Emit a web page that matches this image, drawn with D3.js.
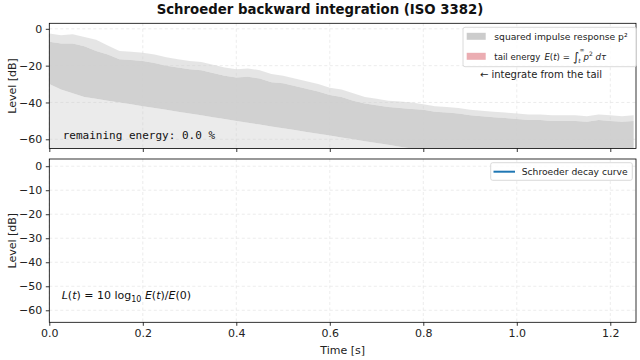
<!DOCTYPE html>
<html><head><meta charset="utf-8">
<script src="https://cdn.jsdelivr.net/npm/d3@7"></script>
<style>
body{margin:0;background:#fff;}
svg{display:block;font-family:"DejaVu Sans",sans-serif;}
</style></head>
<body><svg id="c" width="640" height="360"></svg>
<script>
// ---- data ----
const timeS = [0.000,0.025,0.050,0.075,0.100,0.125,0.150,0.175,0.200,0.225,0.250,0.275,0.300,0.325,0.350,0.375,0.400,0.425,0.450,0.475,0.500,0.525,0.550,0.575,0.600,0.625,0.650,0.675,0.700,0.725,0.750,0.775,0.800,0.825,0.850,0.875,0.900,0.925,0.950,0.975,1.000,1.025,1.050,1.075,1.100,1.125,1.150,1.175,1.200,1.225,1.250];
// spike maxima of squared impulse response (dB)
const peakDb = [-2.5,-3.5,-3,-4.5,-6,-9,-12,-12.5,-13,-14,-15.5,-16.5,-17.5,-18,-19.5,-21,-22,-21.5,-22.5,-24.5,-25.5,-27,-28.5,-30,-32,-33,-35,-37,-38,-39,-39.5,-40,-41,-42,-42.5,-43,-44,-44.5,-45,-45.5,-46,-46.5,-46.5,-47,-47,-47,-47.5,-46.5,-47,-47.5,-47];
// top of the dense body (dB)
const denseTopDb = [-7,-8,-8,-9.5,-12,-14,-16.5,-17,-17.5,-18.5,-20,-21,-22,-22.5,-24,-25.5,-26.5,-26,-27,-29,-29.5,-31,-32.5,-34,-36,-37,-39,-40.5,-41.5,-42.5,-43,-43.5,-44,-45,-45.5,-46,-47,-47.5,-48,-48.5,-49,-49.5,-49.5,-50,-50,-50,-50.5,-49.5,-50,-50.5,-50];
// bottom of the dense body (dB)
const denseBotDb = [-30,-33,-35,-37,-38,-39,-40,-41,-42,-43,-44,-45,-46,-47,-48,-49,-50,-51,-52,-53,-54,-55,-56,-57,-58,-59,-60,-61,-62,-63,-64,-65,-65,-65,-65,-65,-65,-65,-65,-65,-65,-65,-65,-65,-65,-65,-65,-65,-65,-65,-65];
const xTicks = [0.0,0.2,0.4,0.6,0.8,1.0,1.2];
const yTicksTop = [0,-20,-40,-60];
const yTicksBot = [0,-10,-20,-30,-40,-50,-60];
const xDomain = [0,1.255];
const yDomain = [-65,3];
const floorDb = -65;

const svg = d3.select("#c");
const L = 49.3, R = 636;
const top1 = 23.3, bot1 = 148.5, top2 = 159, bot2 = 322.3;
const x = d3.scaleLinear(xDomain,[L,R]);
const y1 = d3.scaleLinear(yDomain,[bot1,top1]);
const y2 = d3.scaleLinear(yDomain,[bot2,top2]);
const gray = "#cccccc";

svg.append("text").attr("x",320).attr("y",14).attr("text-anchor","middle")
  .attr("font-weight","bold").attr("font-size",13.3).attr("fill","#111")
  .text("Schroeder backward integration (ISO 3382)");

function grid(yS, yT, t, b){
  const g = svg.append("g").attr("stroke","#e4e4e4").attr("stroke-width",0.7).attr("stroke-dasharray","3,2.5");
  xTicks.forEach(v=>g.append("line").attr("x1",x(v)).attr("x2",x(v)).attr("y1",t).attr("y2",b));
  yT.forEach(v=>g.append("line").attr("x1",L).attr("x2",R).attr("y1",yS(v)).attr("y2",yS(v)));
}
grid(y1,yTicksTop,top1,bot1);
grid(y2,yTicksBot,top2,bot2);

// ---- top panel signal ----
svg.append("clipPath").attr("id","cp1").append("rect").attr("x",L).attr("y",top1).attr("width",R-L).attr("height",bot1-top1);
const sg = svg.append("g").attr("clip-path","url(#cp1)");
const idx = d3.range(timeS.length);
const area = (hi, lo) => d3.area().x(i=>x(timeS[i])).y0(i=>y1(lo(i))).y1(i=>y1(hi(i)));
sg.append("path").attr("d",area(i=>denseBotDb[i], i=>floorDb)(idx)).attr("fill",gray).attr("opacity",0.4);
sg.append("path").attr("d",area(i=>denseTopDb[i], i=>denseBotDb[i])(idx)).attr("fill",gray).attr("opacity",0.9);
sg.append("path").attr("d",area(i=>peakDb[i], i=>denseTopDb[i])(idx)).attr("fill",gray).attr("opacity",0.5);

// ---- axes ----
function axes(yS, yT, t, b, labels){
  const ax = d3.axisBottom(x).tickValues(xTicks).tickSize(3.5).tickPadding(3.5).tickFormat(labels? d3.format(".1f") : "");
  const gx = svg.append("g").attr("transform",`translate(0,${b})`).call(ax);
  const ay = d3.axisLeft(yS).tickValues(yT).tickSize(3.5).tickPadding(3.5).tickFormat(d3.format("d"));
  const gy = svg.append("g").attr("transform",`translate(${L},0)`).call(ay);
  [gx,gy].forEach(g=>{
    g.select(".domain").remove();
    g.selectAll(".tick line").attr("stroke","#000").attr("stroke-width",0.8);
    g.selectAll(".tick text").attr("font-size",11).attr("fill","#222").attr("font-family","DejaVu Sans");
  });
  svg.append("rect").attr("x",L).attr("y",t).attr("width",R-L).attr("height",b-t)
    .attr("fill","none").attr("stroke","#000").attr("stroke-width",0.8);
  svg.append("text").attr("transform",`translate(12,${(t+b)/2}) rotate(-90)`).attr("text-anchor","middle")
    .attr("dominant-baseline","central").attr("font-size",11).attr("fill","#222").text("Level [dB]");
}
axes(y1,yTicksTop,top1,bot1,false);
axes(y2,yTicksBot,top2,bot2,true);
svg.append("text").attr("x",(L+R)/2).attr("y",354).attr("text-anchor","middle").attr("font-size",11).attr("fill","#222").text("Time [s]");

// ---- annotations ----
svg.append("text").attr("x",62.7).attr("y",139).attr("font-family","DejaVu Sans Mono").attr("font-size",11).attr("fill","#111")
  .text("remaining energy: 0.0 %");

const f = svg.append("text").attr("x",61.7).attr("y",299).attr("font-size",11).attr("fill","#111");
f.append("tspan").attr("font-style","italic").text("L");
f.append("tspan").text("(");
f.append("tspan").attr("font-style","italic").text("t");
f.append("tspan").text(") = 10 log");
f.append("tspan").attr("font-size",8).attr("dy",2.5).text("10");
f.append("tspan").attr("dy",-2.5).text(" ");
f.append("tspan").attr("font-style","italic").text("E");
f.append("tspan").text("(");
f.append("tspan").attr("font-style","italic").text("t");
f.append("tspan").text(")/");
f.append("tspan").attr("font-style","italic").text("E");
f.append("tspan").text("(0)");

// ---- top legend ----
svg.append("rect").attr("x",463).attr("y",27.3).attr("width",173.5).attr("height",39.4).attr("rx",2)
  .attr("fill","#fff").attr("fill-opacity",0.8).attr("stroke","#d0d0d0").attr("stroke-width",0.8);
svg.append("rect").attr("x",466.7).attr("y",32.8).attr("width",19).attr("height",7).attr("fill","#cccccc");
svg.append("rect").attr("x",466.7).attr("y",52.8).attr("width",19).attr("height",7).attr("fill","#ebadb2");
svg.append("text").attr("x",494.3).attr("y",39.5).attr("font-size",9.2).attr("fill","#222").text("squared impulse response p²");
const t2 = svg.append("text").attr("x",494.3).attr("y",59.5).attr("font-size",8.6).attr("fill","#222");
t2.append("tspan").text("tail energy");
t2.append("tspan").attr("dx",4).attr("font-style","italic").text("E");
t2.append("tspan").text("(");
t2.append("tspan").attr("font-style","italic").text("t");
t2.append("tspan").text(") =");
t2.append("tspan").attr("dx",3).attr("dy",1.5).attr("font-size",12).text("∫");
t2.append("tspan").attr("dx",-1).attr("dy",2).attr("font-size",6).attr("font-style","italic").text("t");
t2.append("tspan").attr("dx",-1).attr("dy",-11.5).attr("font-size",6).text("∞");
t2.append("tspan").attr("dx",-1).attr("dy",8).attr("font-style","italic").text("p");
t2.append("tspan").attr("font-size",6).attr("dy",-3.5).text("2");
t2.append("tspan").attr("dy",3.5).attr("font-style","italic").text(" dτ");
svg.append("text").attr("x",541).attr("y",78).attr("text-anchor","middle").attr("font-size",10).attr("fill","#222").text("← integrate from the tail");

// ---- bottom legend ----
svg.append("rect").attr("x",490.7).attr("y",162.7).attr("width",141.6).attr("height",17.6).attr("rx",2)
  .attr("fill","#fff").attr("fill-opacity",0.8).attr("stroke","#d0d0d0").attr("stroke-width",0.8);
svg.append("line").attr("x1",493.5).attr("x2",515).attr("y1",171.7).attr("y2",171.7).attr("stroke","#1f77b4").attr("stroke-width",2);
svg.append("text").attr("x",521.7).attr("y",175).attr("font-size",9.2).attr("fill","#222").text("Schroeder decay curve");
</script></body></html>
